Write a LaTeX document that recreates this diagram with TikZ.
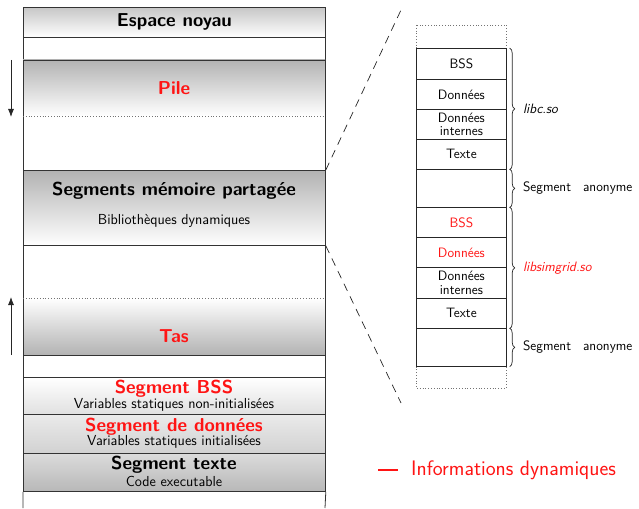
\documentclass[tikz,border=0pt]{standalone}
\usepackage{fontspec}
\usetikzlibrary{decorations.pathreplacing,arrows.meta}
\newcommand\segtitle{\fontsize{18.7}{21}\selectfont\sffamily\bfseries}
\newcommand\segsub{\fontsize{14.5}{16}\selectfont\sffamily}
\newcommand\libfont{\fontsize{13.6}{15}\selectfont\sffamily}
\definecolor{dynred}{RGB}{255,20,20}
\tikzset{
  seg/.style={draw=black!80, line width=0.8pt, minimum width=302pt, inner sep=0pt, anchor=north west},
  lib/.style={draw=black!85, line width=0.7pt, minimum width=90pt, inner sep=0pt, anchor=north west,
              font=\libfont, align=center},
  sep/.style={draw=black!55, dotted, line width=0.8pt},
  zoomline/.style={draw=black!85, dash pattern=on 8pt off 6pt, line width=0.7pt},
  growth/.style={draw=black!85, line width=0.8pt, -{Latex[length=8pt,width=6pt]}},
  curly/.style={draw=black!85, line width=0.7pt, decorate, decoration={brace, amplitude=5pt}},
  side/.style={anchor=west, font=\libfont, inner sep=0pt},
}
\begin{document}
\begin{tikzpicture}[x=1pt, y=-1pt]
\useasboundingbox (0,0) rectangle (639,508);

% ---- process address space ----
\node[seg, minimum height=30pt, top color=black!22, bottom color=white] (kern) at (23,7) {};
\node[font=\segtitle] at (kern.center) {Espace noyau};
\node[seg, minimum height=23pt] (gap1) at (23,37) {};

\shade[top color=black!30, bottom color=white] (23,60) rectangle (325,116);
\node[seg, minimum height=110pt] (stack) at (23,60) {};
\draw[sep] (23,116) -- (325,116);
\node[font=\segtitle, text=dynred] at (174,88) {Pile};

\node[seg, minimum height=75pt, top color=black!30, bottom color=white] (shm) at (23,170) {};
\node[font=\segtitle] at (174,191) {Segments mémoire partagée};
\node[font=\segsub] at (174,221) {Bibliothèques dynamiques};

\shade[top color=white, bottom color=black!30] (23,298) rectangle (325,355);
\node[seg, minimum height=110pt] (heap) at (23,245) {};
\draw[sep] (23,298) -- (325,298);
\node[font=\segtitle, text=dynred] at (174,336) {Tas};

\node[seg, minimum height=22pt] (gap2) at (23,355) {};

\node[seg, minimum height=37pt, top color=white, bottom color=black!12] (bss) at (23,377) {};
\node[font=\segtitle, text=dynred] at (174,389) {Segment BSS};
\node[font=\segsub] at (174,405) {Variables statiques non-initialisées};

\node[seg, minimum height=39pt, top color=black!8, bottom color=black!18] (data) at (23,414) {};
\node[font=\segtitle, text=dynred] at (174,427) {Segment de données};
\node[font=\segsub] at (174,442) {Variables statiques initialisées};

\node[seg, minimum height=38pt, top color=black!14, bottom color=black!28] (text) at (23,453) {};
\node[font=\segtitle] at (174,465) {Segment texte};
\node[font=\segsub] at (174,481) {Code executable};

\draw[black!80, line width=0.8pt] (text.south west) -- (23,508) (text.south east) -- (325,508);

% growth directions
\coordinate (stackFrom) at (11,60);
\coordinate (stackTo) at (11,117);
\coordinate (heapFrom) at (11,355);
\coordinate (heapTo) at (11,297);
\draw[growth] (stackFrom) -- (stackTo);
\draw[growth] (heapFrom) -- (heapTo);

% ---- detail of the shared segment ----
\coordinate (zoomTop) at (401,10);
\coordinate (zoomBot) at (401,403);
\draw[zoomline] (shm.north east) -- (zoomTop);
\draw[zoomline] (shm.south east) -- (zoomBot);

\draw[sep] (416,25) rectangle (506,388);

\node[lib, minimum height=31pt, fill=white] (cbss) at (416,48) {BSS};
\node[lib, minimum height=30pt, fill=white] (cdata) at (416,79) {Données};
\node[lib, minimum height=30pt, fill=white, font=\fontsize{13.6}{13.6}\selectfont\sffamily] (cint) at (416,109) {Données\\internes};
\node[lib, minimum height=30pt, fill=white] (ctext) at (416,139) {Texte};
\node[lib, minimum height=38pt, fill=white] (canon) at (416,169) {};

\node[lib, minimum height=30pt, fill=white, text=dynred] (sbss) at (416,207) {BSS};
\node[lib, minimum height=30pt, fill=white, text=dynred] (sdata) at (416,237) {Données};
\node[lib, minimum height=31pt, fill=white, font=\fontsize{13.6}{13.6}\selectfont\sffamily] (sint) at (416,267) {Données\\internes};
\node[lib, minimum height=30pt, fill=white] (stext) at (416,298) {Texte};
\node[lib, minimum height=38pt, fill=white] (sanon) at (416,328) {};

\draw[curly] ([xshift=3pt]cbss.north east) -- ([xshift=3pt]ctext.south east)
  node[midway, xshift=13pt, side] (libc) {\itshape libc.so};
\draw[curly] ([xshift=3pt]canon.north east) -- ([xshift=3pt]canon.south east)
  node[midway, xshift=13pt, side] (anon1) {Segment\hspace{12pt}anonyme};
\draw[curly] ([xshift=3pt]sbss.north east) -- ([xshift=3pt]stext.south east)
  node[midway, xshift=13pt, side, text=dynred] (simgrid) {\itshape libsimgrid.so};
\draw[curly] ([xshift=3pt]sanon.north east) -- ([xshift=3pt]sanon.south east)
  node[midway, xshift=13pt, side] (anon2) {Segment\hspace{12pt}anonyme};

% ---- legend ----
\coordinate (keyA) at (378,470);
\coordinate (keyB) at (398,470);
\draw[dynred, line width=2pt] (keyA) -- (keyB);
\node[anchor=west, inner sep=0pt, text=dynred, font=\fontsize{21}{24}\selectfont\sffamily] (legend) at (411,470) {Informations dynamiques};
\end{tikzpicture}
\end{document}
